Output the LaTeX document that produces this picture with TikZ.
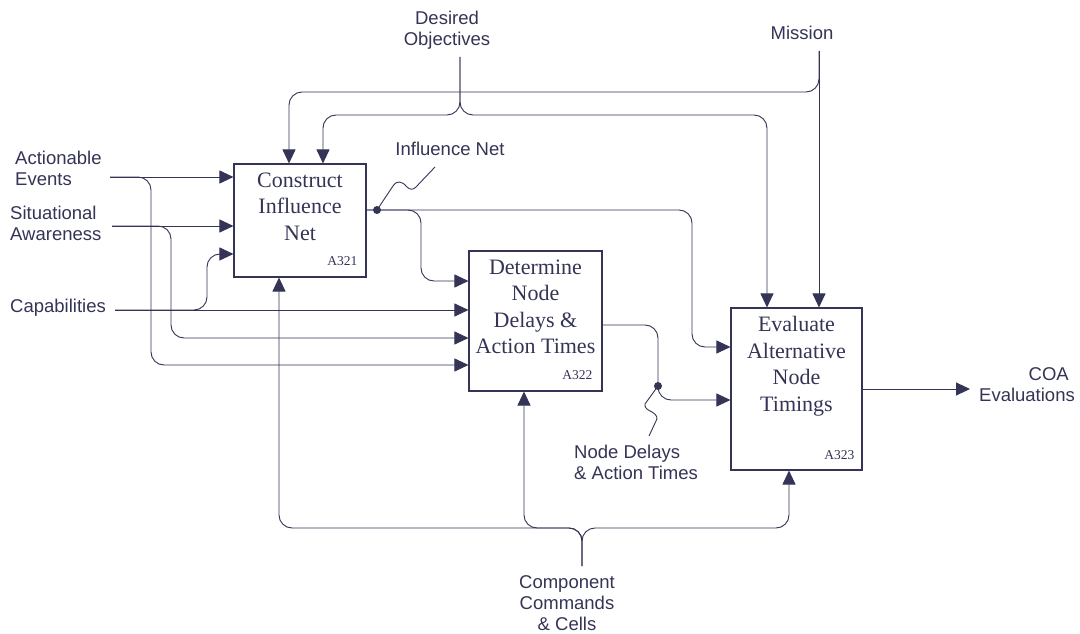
\documentclass[tikz,border=0pt]{standalone}
\usepackage{fontspec}
\setmainfont{Liberation Serif}
\setsansfont{Liberation Sans}
\usetikzlibrary{arrows.meta}
\definecolor{ink}{RGB}{52,52,86}
\begin{document}
\begin{tikzpicture}[x=1pt,y=-1pt,
  flow/.style={draw=ink, line width=0.95pt, rounded corners=13pt},
  arr/.style={flow, -{Triangle[length=14pt,width=13pt]}},
  leader/.style={draw=ink, line width=0.9pt},
  box/.style={draw=ink, line width=1.1pt, fill=white, inner sep=0pt},
  boxtext/.style={font=\fontsize{22}{26.5}\selectfont, text=ink, align=center, inner sep=0pt, anchor=north},
  boxid/.style={font=\fontsize{13.5}{16}\selectfont, text=ink, inner sep=0pt, anchor=base east},
  lbl/.style={font=\sffamily\fontsize{18.5}{21}\selectfont, text=ink, inner sep=0pt},
  joint/.style={circle, fill=ink, inner sep=0pt, minimum size=8pt}
]
\useasboundingbox (0,0) rectangle (1080,634);
\fill[white] (0,0) rectangle (1080,634);

% activity boxes
\node[box, minimum width=132pt, minimum height=113pt] (b1) at (300,220.5) {};
\node[box, minimum width=133pt, minimum height=140pt] (b2) at (535.5,321) {};
\node[box, minimum width=131pt, minimum height=162pt] (b3) at (796.5,389) {};

\node[boxtext] (b1t) at ([yshift=-9pt]b1.north) {Construct\\Influence\\Net};
\node[boxtext] (b2t) at ([yshift=-9pt]b2.north) {Determine\\Node\\Delays \&\\Action Times};
\node[boxtext] (b3t) at ([yshift=-9pt]b3.north) {Evaluate\\Alternative\\Node\\Timings};

\node[boxid] (b1id) at ([xshift=-9pt,yshift=12pt]b1.south east) {A321};
\node[boxid] (b2id) at ([xshift=-10pt,yshift=12pt]b2.south east) {A322};
\node[boxid] (b3id) at ([xshift=-8pt,yshift=11pt]b3.south east) {A323};

% inputs, controls, mechanisms and outputs
\node[lbl, anchor=north, align=center] (obj) at (447,11) {Desired\\Objectives};
\node[lbl, anchor=north] (mis) at (802,26) {Mission};
\node[lbl, anchor=north west, align=left] (ae) at (15,151) {Actionable\\Events};
\node[lbl, anchor=north west, align=left] (sa) at (10,206) {Situational\\Awareness};
\node[lbl, anchor=north west] (cap) at (10,299) {Capabilities};
\node[lbl, anchor=north] (inl) at (450,142) {Influence Net};
\node[lbl, anchor=north west, align=left] (ndl) at (574,445) {Node Delays\\\& Action Times};
\node[lbl, anchor=north east, align=right] (coa) at (1075,367) {COA\hspace*{6pt}\\Evaluations};
\node[lbl, anchor=north, align=center] (ccc) at (567,575) {Component\\Commands\\\& Cells};

% connector end points
\coordinate (objO) at (460,57);
\coordinate (misO) at (819,51);
\coordinate (aeO) at (110,177);
\coordinate (saO) at (112,226);
\coordinate (capO) at (115,310);
\coordinate (inO) at ([yshift=10.5pt]b1.east);
\coordinate (ndO) at ([yshift=-4pt]b2.east);
\coordinate (coaIn) at (970,389);
\coordinate (cccO) at (582,566);
\coordinate (inLead) at (435,167);
\coordinate (ndLead) at (649,436);

% controls from the top
\draw[arr] (misO) -- (misO |- b3.north);
\draw[arr] (misO) |- (289,92) -- (b1.north -| 289,0);
\draw[arr] (objO) |- (323,115) -- (b1.north -| 323,0);
\draw[arr] (objO) |- (767,115) -- (b3.north -| 767,0);

% inputs from the left
\draw[arr] (aeO) -- (aeO -| b1.west);
\draw[arr] (aeO) -| (151,365) -- (b2.west |- 0,365);
\draw[arr] (saO) -- (saO -| b1.west);
\draw[arr] (saO) -| (171,338) -- (b2.west |- 0,338);
\draw[arr] (capO) -- (capO -| b2.west);
\draw[arr] (capO) -| (207,254) -- (b1.west |- 0,254);

% influence net
\draw[arr] (inO) -| (692,347) -- (b3.west |- 0,347);
\draw[arr] (inO) -| (421,281) -- (b2.west |- 0,281);
\node[joint] (inD) at (377,210) {};
\draw[leader] (inD.center) -- (393,186) .. controls (397,180) and (402,181) .. (407,187) .. controls (410,190) and (413,190) .. (416,187) -- (inLead);

% node delays and action times
\draw[arr] (ndO) -| (658,400) -- (b3.west |- 0,400);
\node[joint] (ndD) at (658,386) {};
\draw[leader] (ndD.center) -- (645,404) .. controls (644,408) and (648,410) .. (652,412) .. controls (657,415) and (658,418) .. (656,421) -- (ndLead);

% output
\draw[arr] (b3.east) -- (coaIn);

% mechanisms from the bottom
\draw[arr] (cccO) |- (279,528) -- (b1.south -| 279,0);
\draw[arr] (cccO) |- (524,528) -- (b2.south -| 524,0);
\draw[arr] (cccO) |- (789,528) -- (b3.south -| 789,0);
\end{tikzpicture}
\end{document}
